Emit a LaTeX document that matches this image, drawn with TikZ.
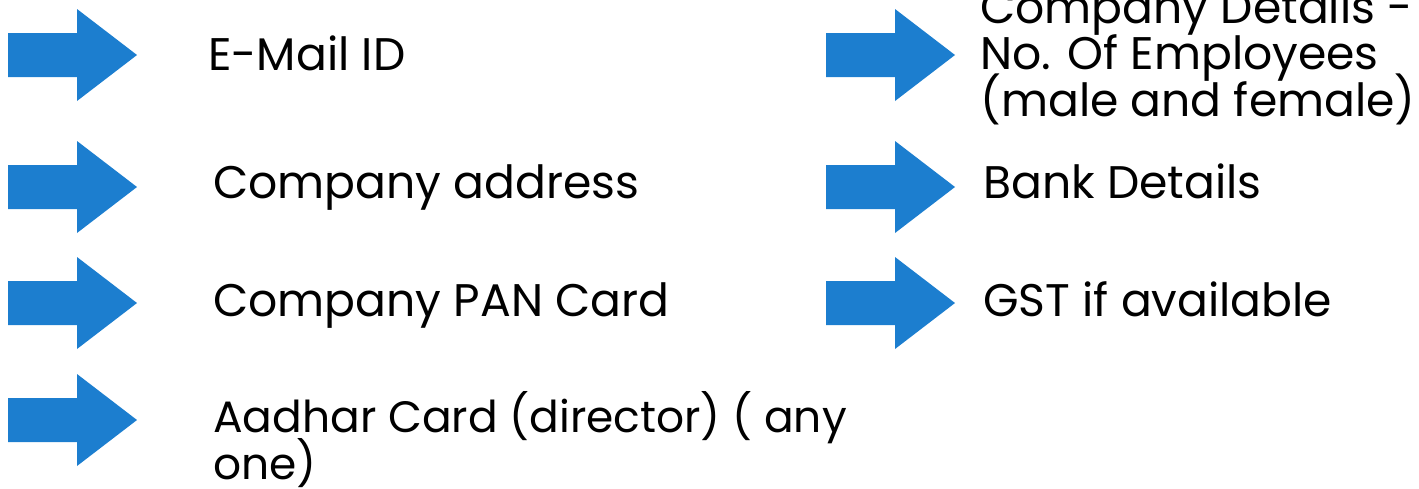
\documentclass[tikz,border=0pt]{standalone}
\usepackage{fontspec}
\setmainfont{Poppins}
\usepackage{xcolor}
\definecolor{arrowblue}{HTML}{1C7ECF}
\newcommand\itemfont{\fontsize{26}{26.2}\selectfont\lineskiplimit-30pt\relax}
\newcommand\smallitemfont{\fontsize{25}{26.6}\selectfont\lineskiplimit-30pt\relax}
\tikzset{
    bluearrow/.pic={
        \fill[arrowblue] (0, -22) -- (69, -22) -- (69, -46) -- (129, 0)
            -- (69, 46) -- (69, 22) -- (0, 22) -- cycle;
    },
    itemtext/.style={anchor=base west, inner sep=0pt, align=left,
        font=\itemfont}
}

\begin{document}
\begin{tikzpicture}[x=0.02cm, y=-0.02cm]
        \useasboundingbox (0, 0) rectangle (1419, 488);

        % arrows, left column and right column
        \foreach \ypos in {55, 187, 303, 420}
            \pic at (8, \ypos) {bluearrow};
        \foreach \ypos in {55, 187, 303}
            \pic at (826, \ypos) {bluearrow};

        % left column
        \node[itemtext] (email) at (208, 70) {E-Mail ID};
        \node[itemtext] (address) at (213, 198) {Company address};
        \node[itemtext] (pan) at (213, 316) {Company PAN Card};
        \node[itemtext, font=\smallitemfont] (aadhar) at (213, 479)
            {Aadhar Card (director) ( any\\one)};

        % right column (top line cut off by the edge)
        \node[itemtext] (details) at (980, 116)
            {Company Details -\\No. Of Employees\\(male and female)};
        \node[itemtext] (bank) at (983, 198) {Bank Details};
        \node[itemtext] (gst) at (983, 316) {GST if available};
\end{tikzpicture}
\end{document}
